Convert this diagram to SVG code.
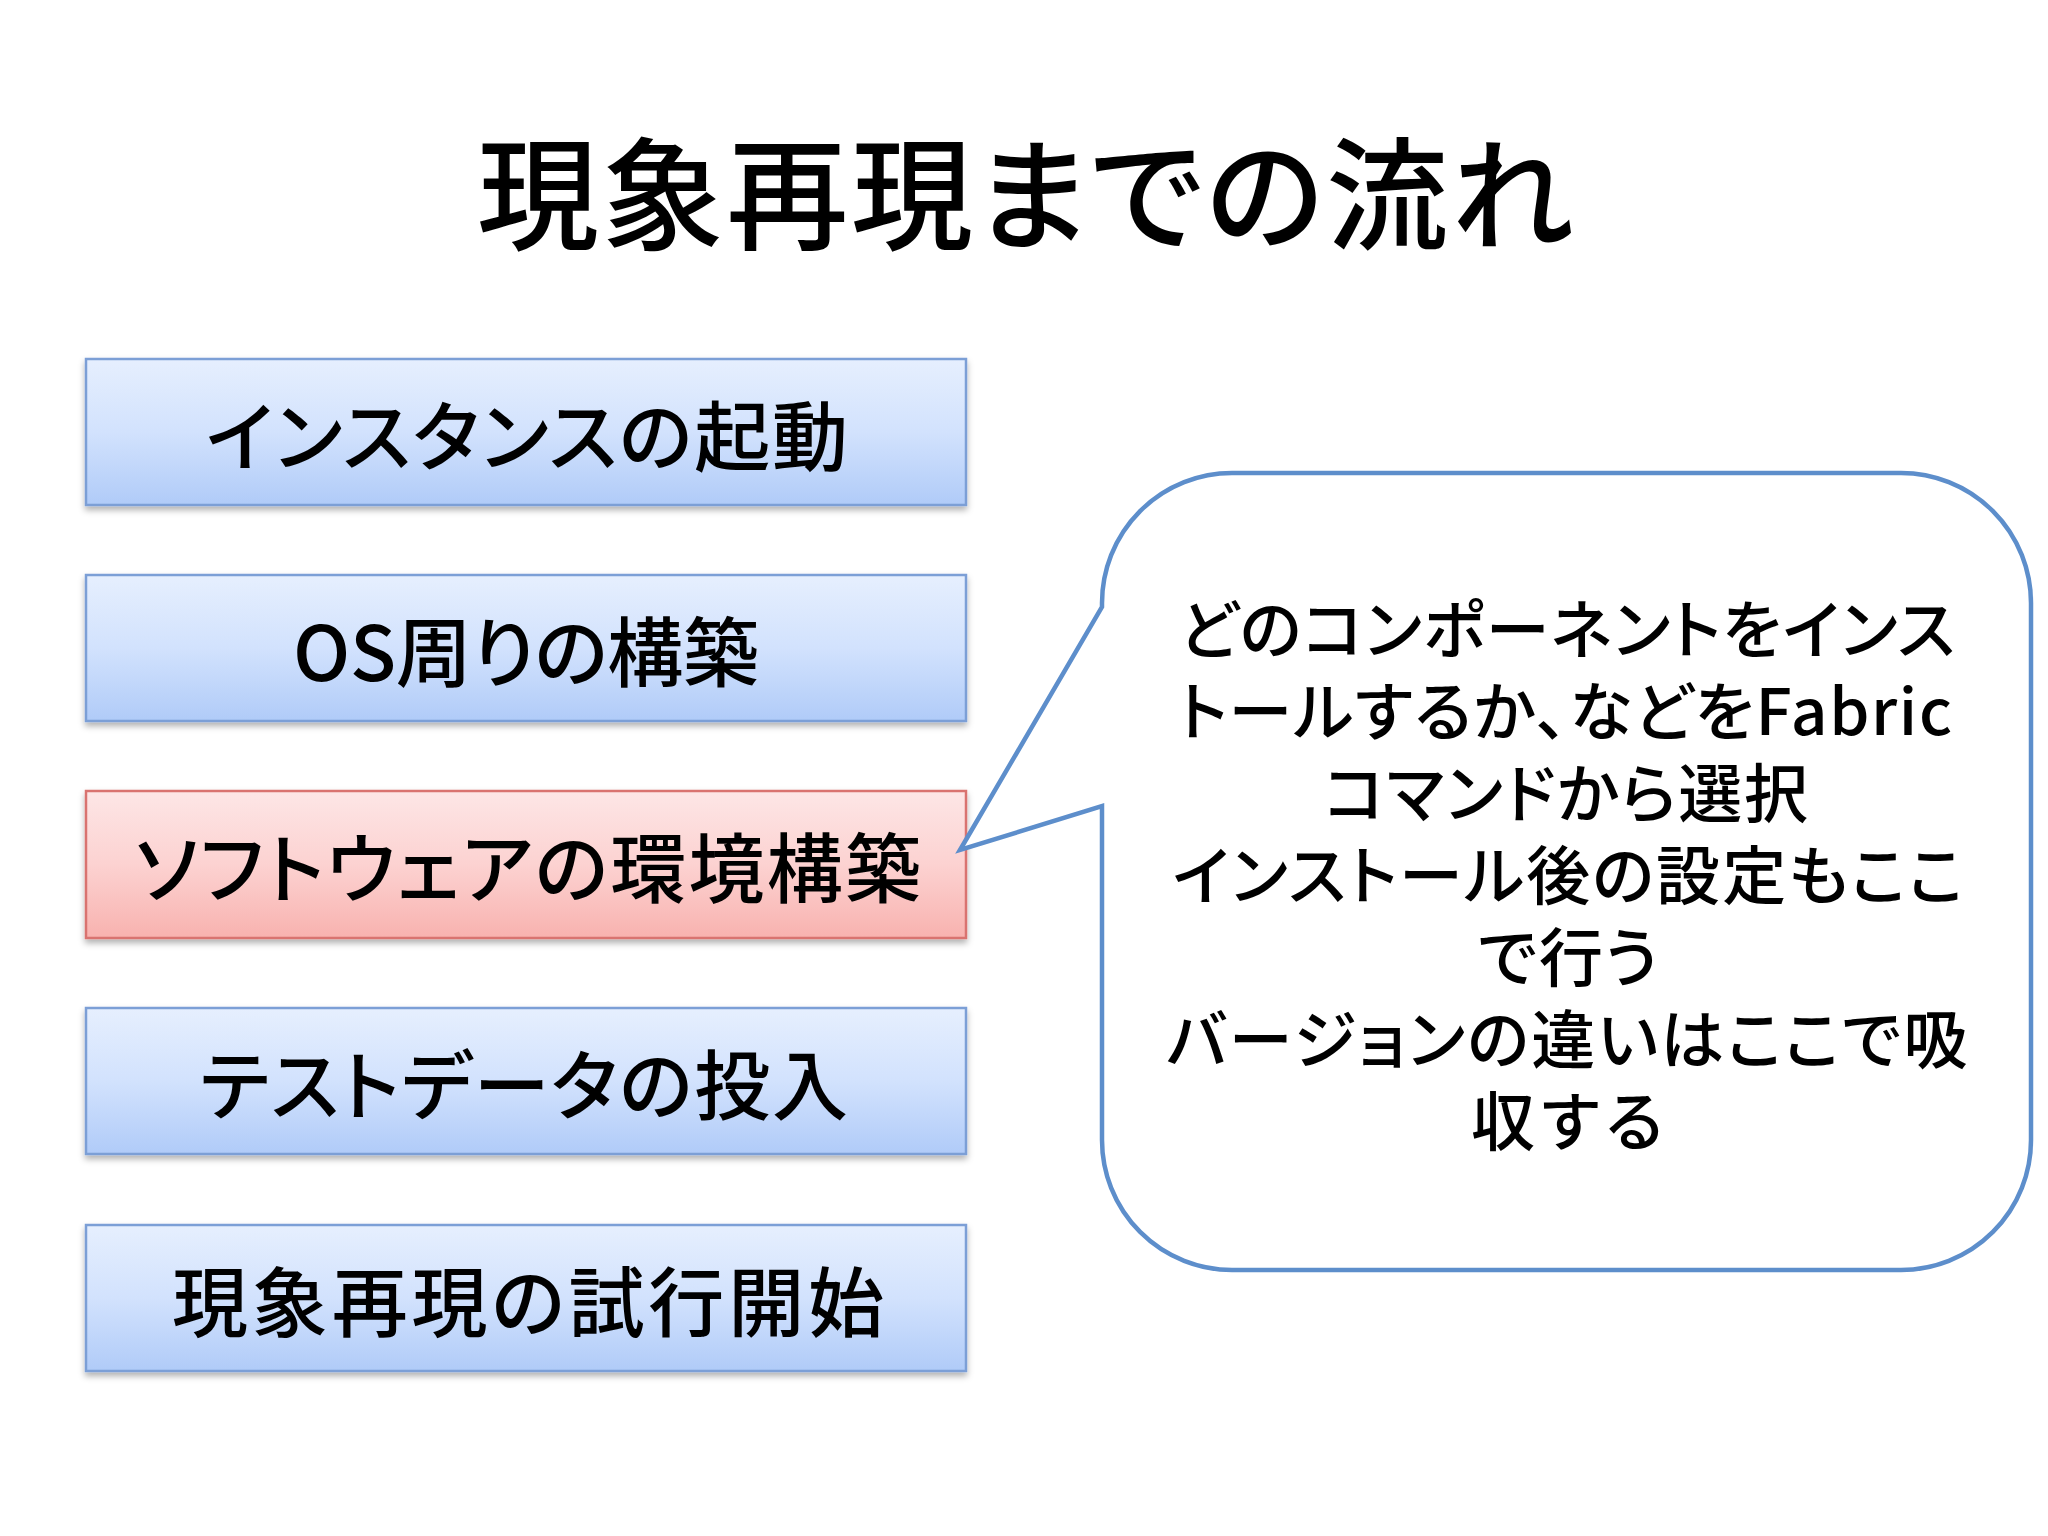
<svg xmlns="http://www.w3.org/2000/svg" width="2048" height="1536" viewBox="0 0 2048 1536">
<style>
  .jp { font-family: "Noto Sans CJK JP", "Noto Sans", sans-serif; fill: #000; text-anchor: middle; font-feature-settings: "palt"; font-weight: 500; }
  .title { font-size: 122px; }
  .box { font-size: 76px; }
  .note { font-size: 64px; }
  .bluebox { fill: url(#gBlue); stroke: #7b9fd6; stroke-width: 2.5; filter: url(#shadow); }
  .redbox { fill: url(#gRed); stroke: #d9736f; stroke-width: 2.5; filter: url(#shadow); }
  .callout { fill: #fff; stroke: #5d8ecb; stroke-width: 4.5; stroke-linejoin: miter; }
</style>
<defs>
  <linearGradient id="gBlue" x1="0" y1="0" x2="0" y2="1">
    <stop offset="0" stop-color="#e6effe"/>
    <stop offset="0.5" stop-color="#d2e2fd"/>
    <stop offset="1" stop-color="#b0cbf8"/>
  </linearGradient>
  <linearGradient id="gRed" x1="0" y1="0" x2="0" y2="1">
    <stop offset="0" stop-color="#fde6e6"/>
    <stop offset="0.5" stop-color="#fcd2d1"/>
    <stop offset="1" stop-color="#f8b2af"/>
  </linearGradient>
  <filter id="shadow" x="-5%" y="-10%" width="110%" height="130%">
    <feDropShadow dx="0" dy="4" stdDeviation="3" flood-color="#000" flood-opacity="0.3"/>
  </filter>
</defs>
<rect width="2048" height="1536" fill="#fff"/>

<g id="title">
  <text class="jp title" x="1025" y="240" textLength="1096">現象再現までの流れ</text>
</g>

<g id="step1">
  <rect class="bluebox" x="86" y="359" width="880" height="146"/>
  <text class="jp box" x="527" y="465" textLength="642">インスタンスの起動</text>
</g>
<g id="step2">
  <rect class="bluebox" x="86" y="575" width="880" height="146"/>
  <text class="jp box" x="526" y="681" textLength="466">OS周りの構築</text>
</g>
<g id="step3">
  <rect class="redbox" x="86" y="791" width="880" height="147"/>
  <text class="jp box" x="528" y="897" textLength="786">ソフトウェアの環境構築</text>
</g>
<g id="step4">
  <rect class="bluebox" x="86" y="1008" width="880" height="146"/>
  <text class="jp box" x="524" y="1114" textLength="648">テストデータの投入</text>
</g>
<g id="step5">
  <rect class="bluebox" x="86" y="1225" width="880" height="146"/>
  <text class="jp box" x="528" y="1331" textLength="712">現象再現の試行開始</text>
</g>

<g id="connectors">
  <path id="callout" class="callout" d="M 1102 607 L 1102 603 A 130 130 0 0 1 1232 473 L 1901 473 A 130 130 0 0 1 2031 603 L 2031 1140 A 130 130 0 0 1 1901 1270 L 1232 1270 A 130 130 0 0 1 1102 1140 L 1102 806 L 960 850 Z"/>
</g>

<g id="note">
  <text class="jp note"><tspan x="1567" y="653" textLength="776">どのコンポーネントをインス</tspan><tspan x="1565" y="735" textLength="774">トールするか、などをFabric</tspan><tspan x="1566" y="817" textLength="484">コマンドから選択</tspan><tspan x="1568" y="899" textLength="791">インストール後の設定もここ</tspan><tspan x="1568" y="981" textLength="180">で行う</tspan><tspan x="1567" y="1063" textLength="801">バージョンの違いはここで吸</tspan><tspan x="1567" y="1145" textLength="192">収する</tspan></text>
</g>
</svg>
